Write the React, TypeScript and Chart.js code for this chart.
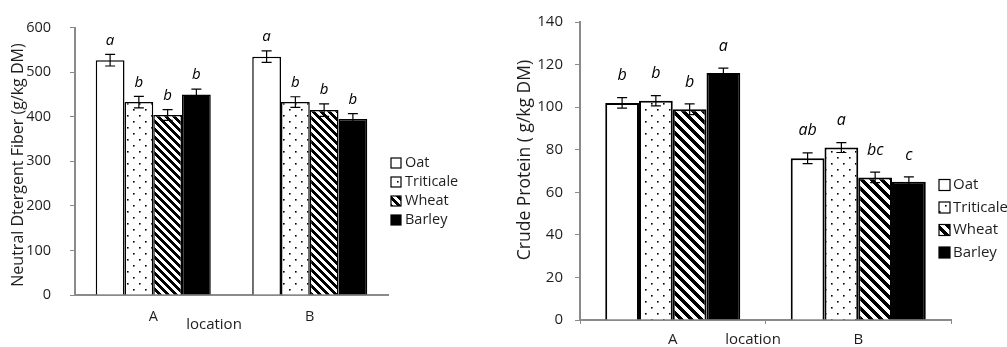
import React, { useEffect, useRef } from "react";
import { Chart, registerables } from "chart.js";

Chart.register(...registerables);

// ---------- data ----------
const locations = ["A", "B"];
const cereals = ["Oat", "Triticale", "Wheat", "Barley"];

// Neutral detergent fiber (g/kg DM)
const ndfOat = [527, 535];
const ndfTriticale = [433, 433];
const ndfWheat = [404, 415];
const ndfBarley = [450, 395];
const ndfErrOat = [13, 13];
const ndfErrTriticale = [13, 12];
const ndfErrWheat = [12, 14];
const ndfErrBarley = [12, 12];
const ndfLetOat = ["a", "a"];
const ndfLetTriticale = ["b", "b"];
const ndfLetWheat = ["b", "b"];
const ndfLetBarley = ["b", "b"];
const ndfMax = 600;
const ndfStep = 100;

// Crude protein (g/kg DM)
const cpOat = [102, 76];
const cpTriticale = [103, 81];
const cpWheat = [99, 67];
const cpBarley = [116, 65];
const cpErrOat = [2.5, 2.5];
const cpErrTriticale = [2.4, 2.3];
const cpErrWheat = [2.5, 2.5];
const cpErrBarley = [2.3, 2.2];
const cpLetOat = ["b", "ab"];
const cpLetTriticale = ["b", "a"];
const cpLetWheat = ["b", "bc"];
const cpLetBarley = ["a", "c"];
const cpMax = 140;
const cpStep = 20;

// ---------- styling helpers ----------
const FONT = "'Open Sans', sans-serif";
const AXIS_GRAY = "#8a8a8a";
const TEXT = "#1e1e1e";

function makeDots(size: number): CanvasPattern {
  const c = document.createElement("canvas");
  c.width = size;
  c.height = size;
  const g = c.getContext("2d")!;
  g.fillStyle = "#fff";
  g.fillRect(0, 0, size, size);
  g.fillStyle = "#000";
  g.fillRect(1, 1, 1.6, 1.6);
  g.fillRect(1 + size / 2, 1 + size / 2, 1.6, 1.6);
  return g.createPattern(c, "repeat")!;
}

function makeStripes(period: number): CanvasPattern {
  const c = document.createElement("canvas");
  c.width = period;
  c.height = period;
  const g = c.getContext("2d")!;
  const img = g.createImageData(period, period);
  for (let y = 0; y < period; y++) {
    for (let x = 0; x < period; x++) {
      const d = (((x - y) % period) + period) % period;
      const v = d < period / 2 ? 0 : 255;
      const k = (y * period + x) * 4;
      img.data[k] = v;
      img.data[k + 1] = v;
      img.data[k + 2] = v;
      img.data[k + 3] = 255;
    }
  }
  g.putImageData(img, 0, 0);
  return g.createPattern(c, "repeat")!;
}

type Cfg = {
  width: number;
  height: number;
  values: number[][];
  errors: number[][];
  letters: string[][];
  max: number;
  step: number;
  padTop: number;
  padRight: number;
  yAxisWidth: number;
  xAxisHeight: number;
  groupFrac: number;
  barBorder: number;
  stripePeriod: number;
  dotSize: number;
  tickFont: number;
  titleFont: number;
  xTitleFont: number;
  yPad: number;
  xPad: number;
  xTicks: boolean;
  letterFont: number;
  letterOffset: number;
  yTitle: string;
  yTitlePos: [number, number];
  xTitlePos: [number, number];
  legendBoxX: number;
  legendTextX: number;
  legendY0: number;
  legendDy: number;
  legendBox: number;
  legendFont: number;
};

function decorPlugin(cfg: Cfg) {
  return {
    id: "decor",
    afterDatasetsDraw(chart: any) {
      const ctx = chart.ctx as CanvasRenderingContext2D;
      const yScale = chart.scales.y;
      ctx.save();
      chart.data.datasets.forEach((ds: any, i: number) => {
        const meta = chart.getDatasetMeta(i);
        meta.data.forEach((bar: any, j: number) => {
          const v = ds.data[j] as number;
          const e = cfg.errors[i][j];
          const x = bar.x;
          const yt = yScale.getPixelForValue(v + e);
          const yb = yScale.getPixelForValue(v - e);
          ctx.strokeStyle = "#000";
          ctx.lineWidth = 1.2;
          ctx.beginPath();
          ctx.moveTo(x, yt);
          ctx.lineTo(x, yb);
          ctx.moveTo(x - 5, yt);
          ctx.lineTo(x + 5, yt);
          ctx.moveTo(x - 5, yb);
          ctx.lineTo(x + 5, yb);
          ctx.stroke();
          ctx.fillStyle = "#000";
          ctx.font = `italic ${cfg.letterFont}px ${FONT}`;
          ctx.textAlign = "center";
          ctx.textBaseline = "middle";
          ctx.fillText(cfg.letters[i][j], x, yt - cfg.letterOffset);
        });
      });
      ctx.restore();
    },
    afterDraw(chart: any) {
      const ctx = chart.ctx as CanvasRenderingContext2D;
      ctx.save();
      // legend
      chart.data.datasets.forEach((ds: any, i: number) => {
        const cy = cfg.legendY0 + i * cfg.legendDy;
        const b = cfg.legendBox;
        ctx.fillStyle = ds.backgroundColor;
        ctx.fillRect(cfg.legendBoxX, cy - b / 2, b, b);
        ctx.strokeStyle = "#000";
        ctx.lineWidth = 1.2;
        ctx.strokeRect(cfg.legendBoxX, cy - b / 2, b, b);
        ctx.fillStyle = TEXT;
        ctx.font = `${cfg.legendFont}px ${FONT}`;
        ctx.textAlign = "left";
        ctx.textBaseline = "middle";
        ctx.fillText(ds.label, cfg.legendTextX, cy);
      });
      // y title
      ctx.fillStyle = TEXT;
      ctx.font = `${cfg.titleFont}px ${FONT}`;
      ctx.textAlign = "center";
      ctx.textBaseline = "middle";
      ctx.save();
      ctx.translate(cfg.yTitlePos[0], cfg.yTitlePos[1]);
      ctx.rotate(-Math.PI / 2);
      ctx.fillText(cfg.yTitle, 0, 0);
      ctx.restore();
      // x title
      ctx.font = `${cfg.xTitleFont}px ${FONT}`;
      ctx.fillText("location", cfg.xTitlePos[0], cfg.xTitlePos[1]);
      ctx.restore();
    },
  };
}

function buildChart(canvas: HTMLCanvasElement, cfg: Cfg): Chart {
  const fills: (string | CanvasPattern)[] = [
    "#ffffff",
    makeDots(cfg.dotSize),
    makeStripes(cfg.stripePeriod),
    "#000000",
  ];
  const datasets = cereals.map((name, i) => ({
    label: name,
    data: cfg.values[i],
    backgroundColor: fills[i] as any,
    borderColor: "#000",
    borderWidth: cfg.barBorder,
    categoryPercentage: cfg.groupFrac,
    barPercentage: 1,
  }));
  return new Chart(canvas, {
    type: "bar",
    data: { labels: locations, datasets },
    plugins: [decorPlugin(cfg)],
    options: {
      responsive: false,
      animation: false,
      layout: { padding: { top: cfg.padTop, right: cfg.padRight, left: 0, bottom: 0 } },
      plugins: { legend: { display: false }, tooltip: { enabled: false } },
      scales: {
        x: {
          grid: {
            display: cfg.xTicks,
            drawOnChartArea: false,
            drawTicks: cfg.xTicks,
            tickLength: 4,
            color: AXIS_GRAY,
          },
          border: { display: true, color: AXIS_GRAY, width: 2 },
          ticks: { color: TEXT, font: { family: FONT, size: cfg.tickFont }, padding: cfg.xPad },
          afterFit: (s: any) => {
            s.height = cfg.xAxisHeight;
          },
        },
        y: {
          min: 0,
          max: cfg.max,
          ticks: {
            stepSize: cfg.step,
            color: TEXT,
            font: { family: FONT, size: cfg.tickFont },
            padding: cfg.yPad,
          },
          grid: { drawOnChartArea: false, drawTicks: true, tickLength: 5, color: AXIS_GRAY },
          border: { display: true, color: AXIS_GRAY, width: 2 },
          afterFit: (s: any) => {
            s.width = cfg.yAxisWidth;
          },
        },
      },
    } as any,
  });
}

const ndfCfg: Cfg = {
  width: 500,
  height: 347,
  values: [ndfOat, ndfTriticale, ndfWheat, ndfBarley],
  errors: [ndfErrOat, ndfErrTriticale, ndfErrWheat, ndfErrBarley],
  letters: [ndfLetOat, ndfLetTriticale, ndfLetWheat, ndfLetBarley],
  max: ndfMax,
  step: ndfStep,
  padTop: 23,
  padRight: 112,
  yAxisWidth: 75,
  xAxisHeight: 52,
  groupFrac: 0.735,
  barBorder: 1.5,
  stripePeriod: 8,
  dotSize: 12,
  tickFont: 14.5,
  titleFont: 16,
  xTitleFont: 15,
  yPad: 19,
  xPad: 13,
  xTicks: false,
  letterFont: 15,
  letterOffset: 14,
  yTitle: "Neutral Dtergent Fiber (g/kg DM)",
  yTitlePos: [18, 165],
  xTitlePos: [214, 325],
  legendBoxX: 391,
  legendTextX: 405,
  legendY0: 163,
  legendDy: 19,
  legendBox: 10,
  legendFont: 14.5,
};

const cpCfg: Cfg = {
  width: 507,
  height: 347,
  values: [cpOat, cpTriticale, cpWheat, cpBarley],
  errors: [cpErrOat, cpErrTriticale, cpErrWheat, cpErrBarley],
  letters: [cpLetOat, cpLetTriticale, cpLetWheat, cpLetBarley],
  max: cpMax,
  step: cpStep,
  padTop: 22,
  padRight: 56,
  yAxisWidth: 80,
  xAxisHeight: 27,
  groupFrac: 0.728,
  barBorder: 2,
  stripePeriod: 10,
  dotSize: 12,
  tickFont: 15,
  titleFont: 17.5,
  xTitleFont: 15,
  yPad: 12,
  xPad: 7,
  xTicks: true,
  letterFont: 16,
  letterOffset: 22,
  yTitle: "Crude Protein ( g/kg DM)",
  yTitlePos: [25, 160],
  xTitlePos: [253, 340],
  legendBoxX: 439,
  legendTextX: 453,
  legendY0: 185,
  legendDy: 22.5,
  legendBox: 11,
  legendFont: 15,
};

function BarPanel({ cfg, left }: { cfg: Cfg; left: number }) {
  const ref = useRef<HTMLCanvasElement | null>(null);
  useEffect(() => {
    if (!ref.current) return;
    const chart = buildChart(ref.current, cfg);
    return () => chart.destroy();
  }, [cfg]);
  return (
    <canvas
      ref={ref}
      width={cfg.width}
      height={cfg.height}
      style={{ position: "absolute", left, top: 0, width: cfg.width, height: cfg.height }}
    />
  );
}

export default function App() {
  return (
    <div
      style={{
        position: "absolute",
        left: 0,
        top: 0,
        width: 1007,
        height: 347,
        background: "#fff",
        overflow: "hidden",
      }}
    >
      <BarPanel cfg={ndfCfg} left={0} />
      <BarPanel cfg={cpCfg} left={500} />
    </div>
  );
}
